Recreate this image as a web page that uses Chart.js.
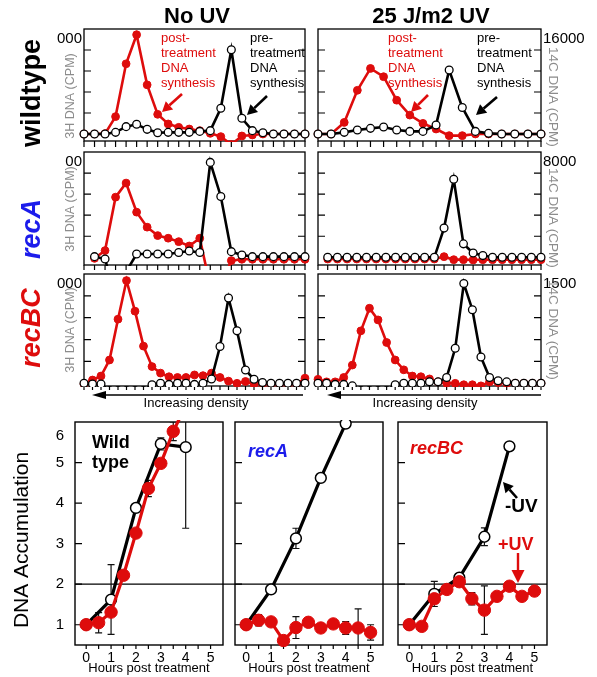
<!DOCTYPE html>
<html><head><meta charset="utf-8">
<script src="https://cdn.jsdelivr.net/npm/chart.js@4.4.1/dist/chart.umd.min.js"></script>
<style>
html,body{margin:0;padding:0;background:#fff;}
#wrap{position:relative;width:597px;height:677px;overflow:hidden;background:#fff;}
#wrap canvas{position:absolute;left:0;top:0;}
</style></head><body><div id="wrap"></div>
<script>
// ===== DATA: gradient fractions (CPM) =====
const wtNoUV_pre   = [0,0,0,250,1120,1480,710,200,250,250,250,400,510,3920,12840,2400,510,200,0,0,0,0];
const wtNoUV_post  = [0,0,50,2650,10700,15130,7490,3000,1530,1020,760,510,100,-400,-1600,-300,-150,0,0,0,0,0];
const wtUV_pre     = [0,0,250,600,860,1060,600,400,400,1360,9740,4040,400,100,0,0,0,0];
const wtUV_post    = [0,0,1770,6660,9990,8730,5150,2880,1620,760,-250,-250,0,0,0,0,0,0];
const recANoUV_pre = [null,50,-130,-3000,-1100,250,250,250,250,360,480,360,7210,4620,430,180,50,50,50,50,50,50];
const recANoUV_post= [null,-80,510,4570,5640,3430,2290,1650,1450,1190,860,1450,-2200,-2200,-250,-150,-150,-150,-150,-150,-150,-150];
const recAUV_pre   = [null,0,0,0,0,0,0,0,0,0,0,0,0,2220,5930,1020,330,130,0,0,0,0,0,0];
const recAUV_post  = [null,-130,-130,-130,-130,-130,-130,-130,-130,-130,-130,-130,-130,50,-180,-180,-200,-180,-180,-180,-180,-180,-180,-180];
const recBCNoUV_pre  = [0,-10,-10,-100,-100,-100,-100,-100,-20,0,-15,0,0,-15,0,60,505,1170,720,183,55,10,0,0,0,0,0];
const recBCNoUV_post = [-10,45,100,320,880,1410,990,510,230,140,90,80,80,115,105,140,80,30,0,25,-10,-10,-10,-10,-10,-10,70];
const recBCUV_pre    = [0,0,-15,-15,-35,-100,-100,-100,-100,-20,0,0,0,20,20,80,480,1370,1010,360,80,35,20,0,0,0,0];
const recBCUV_post   = [55,20,20,80,250,720,1030,870,560,320,185,100,90,60,20,0,0,-20,-20,-35,20,10,0,0,0,0,0];
const rowMax = [16000, 8000, 1500];
const leftTickLabels  = ['000','00','000'];
const rightTickLabels = ['16000','8000','1500'];

// ===== DATA: DNA accumulation =====
const hoursHalf = [0,0.5,1,1.5,2,2.5,3,3.5,4,4.5,5];
const hoursWhole = [0,1,2,3,4];
const wt_minusUV      = [1.0,1.62,3.88,5.46,5.38];
const wt_minusUV_err  = [0,0.86,0,0.15,2.0];
const wt_plusUV       = [1.0,1.05,1.31,2.22,3.26,4.36,4.98,5.77,6.4];
const wt_plusUV_err   = [0,0.25,0,0,0,0.2,0,0.23,0];
const recA_minusUV    = [1.0,1.87,3.13,4.62,5.96];
const recA_minusUV_err= [0,0,0.25,0,0.08];
const recA_plusUV     = [1.0,1.11,1.07,0.61,0.93,1.06,0.92,1.02,0.92,0.92,0.81];
const recA_plusUV_err = [0,0.14,0,0,0.27,0,0,0,0.16,0.47,0.19];
const recBC_minusUV   = [1.0,1.76,2.16,3.17,5.40];
const recBC_minusUV_err=[0,0.31,0.1,0.22,0];
const recBC_plusUV    = [1.0,0.96,1.64,1.87,2.06,1.64,1.36,1.70,1.95,1.70,1.83];
const recBC_plusUV_err= [0,0,0,0,0,0.15,0.6,0,0,0,0];
const yTickLabels = ['1','2','3','4','5','6'];
const xTickLabels = ['0','1','2','3','4','5'];

// ===== helpers =====
const FONT = "'Liberation Sans', Arial, Helvetica, sans-serif";
const RED = 'rgb(222,12,12)';
const BLUE = 'rgb(28,28,235)';
const GRAY = '#8c8c8c';
const W = 597, H = 677;
const wrap = document.getElementById('wrap');
function newCanvas(){ const c=document.createElement('canvas'); c.width=W; c.height=H; wrap.appendChild(c); return c; }
function txt(ctx,s,x,y,font,color,align,baseline,rot){
  ctx.save(); ctx.translate(x,y); if(rot) ctx.rotate(rot);
  ctx.font=font; ctx.fillStyle=color; ctx.textAlign=align||'left'; ctx.textBaseline=baseline||'middle';
  ctx.fillText(s,0,0); ctx.restore();
}
function arrow(ctx,x1,y1,x2,y2,color,lw,hl,hw){
  const a=Math.atan2(y2-y1,x2-x1), bx=x2-hl*Math.cos(a), by=y2-hl*Math.sin(a);
  ctx.save(); ctx.strokeStyle=color; ctx.fillStyle=color; ctx.lineWidth=lw;
  ctx.beginPath(); ctx.moveTo(x1,y1); ctx.lineTo(bx,by); ctx.stroke();
  ctx.beginPath(); ctx.moveTo(x2,y2);
  ctx.lineTo(bx+hw/2*Math.sin(a), by-hw/2*Math.cos(a));
  ctx.lineTo(bx-hw/2*Math.sin(a), by+hw/2*Math.cos(a)); ctx.closePath(); ctx.fill(); ctx.restore();
}
function line(ctx,x1,y1,x2,y2,lw,color){ ctx.save(); ctx.strokeStyle=color||'#000'; ctx.lineWidth=lw; ctx.beginPath(); ctx.moveTo(x1,y1); ctx.lineTo(x2,y2); ctx.stroke(); ctx.restore(); }
const baseOpts = (pad)=>({responsive:false, animation:false, devicePixelRatio:1, events:[],
  layout:{padding:pad}, plugins:{legend:{display:false}, tooltip:{enabled:false}, title:{display:false}}});

// ===== gradient panels =====
function topPanel(o){
  const n=o.pre.length, ymin=-o.max*(o.y1-o.base)/(o.base-o.y0);
  const mk=a=>a.map((v,i)=>({x:i,y:v}));
  const common={borderWidth:2.6, tension:0, clip:{left:8,right:8,top:4,bottom:1}, pointHoverRadius:0};
  const opts=baseOpts({left:o.x0, top:o.y0, right:W-o.x1, bottom:H-o.y1});
  opts.scales={x:{type:'linear',display:false,min:0,max:n-1}, y:{type:'linear',display:false,min:ymin,max:o.max}};
  new Chart(newCanvas(),{type:'line', data:{datasets:[
    {...common, data:mk(o.pre), borderColor:'#000', pointRadius:3.9, pointBorderWidth:1.3, pointBackgroundColor:'#fff', pointBorderColor:'#000'},
    {...common, data:mk(o.post), borderColor:RED, pointRadius:3.9, pointBorderWidth:1, pointBackgroundColor:RED, pointBorderColor:RED}
  ]}, options:opts, plugins:[{id:'frm',
    beforeDatasetsDraw(ch){
      const c=ch.ctx, a=ch.chartArea, xs=ch.scales.x, ys=ch.scales.y;
      c.save(); c.strokeStyle='#000'; c.lineWidth=1.3; c.strokeRect(a.left,a.top,a.right-a.left,a.bottom-a.top);
      c.lineWidth=1.2; c.beginPath();
      for(let i=0;i<n;i++){ const px=xs.getPixelForValue(i); c.moveTo(px,a.bottom); c.lineTo(px,a.bottom+o.tick); }
      for(let k=1;k<5;k++){ const py=ys.getPixelForValue(o.max*k/5); c.moveTo(a.left,py); c.lineTo(a.left+7,py); c.moveTo(a.right,py); c.lineTo(a.right-7,py); }
      c.stroke(); c.restore();
    },
    afterDraw(ch){ o.decorate(ch.ctx, ch.chartArea); }
  }]});
}
const L={x0:84,x1:305}, R={x0:318,x1:541};
const ROWS=[{y0:29,y1:141,base:134,tick:6},{y0:152,y1:265,base:257.3,tick:5},{y0:274,y1:386,base:383.3,tick:4}];
const rowName=[['wildtype','#000',"bold 27px "+FONT,93],['recA',BLUE,"italic bold 27px "+FONT,229],['recBC',RED,"italic bold 27px "+FONT,328]];
const leftLabelY=[96,209,330], rightLabelY=[47,168,280];
const topData=[[wtNoUV_pre,wtNoUV_post,wtUV_pre,wtUV_post],[recANoUV_pre,recANoUV_post,recAUV_pre,recAUV_post],[recBCNoUV_pre,recBCNoUV_post,recBCUV_pre,recBCUV_post]];

function noteBlock(ctx,x,color){ ['post-','treatment','DNA','synthesis'].forEach((s,i)=>txt(ctx,s,x,38+15*i,"13px "+FONT,color)); }
function noteBlockPre(ctx,x){ ['pre-','treatment','DNA','synthesis'].forEach((s,i)=>txt(ctx,s,x,38+15*i,"13px "+FONT,'#000')); }

ROWS.forEach((r,ri)=>{
  const d=topData[ri];
  topPanel({...L,...r,max:rowMax[ri],pre:d[0],post:d[1],decorate:(ctx,a)=>{
    txt(ctx,leftTickLabels[ri],82,a.top+2,"15px "+FONT,'#000','right','top');
    txt(ctx,'3H DNA (CPM)',71,leftLabelY[ri],"12.5px "+FONT,GRAY,'center','middle',-Math.PI/2);
    const rn=rowName[ri]; txt(ctx,rn[0],33,rn[3],rn[2],rn[1],'center','middle',-Math.PI/2);
    if(ri===0){
      txt(ctx,'No UV',197,17,"bold 22px "+FONT,'#000','center','middle');
      noteBlock(ctx,161,RED); noteBlockPre(ctx,250);
      arrow(ctx,182,94,162,112,RED,2.6,10,11);
      arrow(ctx,267,96,247,115,'#000',2.6,10,11);
    }
    if(ri===2){
      arrow(ctx,303,395,92,395,'#000',1.3,14,8);
      txt(ctx,'Increasing density',196,403,"13px "+FONT,'#000','center','middle');
    }
  }});
  topPanel({...R,...r,max:rowMax[ri],pre:d[2],post:d[3],decorate:(ctx,a)=>{
    txt(ctx,rightTickLabels[ri],543,a.top+2,"15px "+FONT,'#000','left','top');
    txt(ctx,'14C DNA (CPM)',553,rightLabelY[ri],"13.5px "+FONT,GRAY,'left','middle',Math.PI/2);
    if(ri===0){
      txt(ctx,'25 J/m2 UV',431,17,"bold 22px "+FONT,'#000','center','middle');
      noteBlock(ctx,388,RED); noteBlockPre(ctx,477);
      arrow(ctx,428,95,411,112,RED,2.6,10,11);
      arrow(ctx,497,97,476,115,'#000',2.6,10,11);
    }
    if(ri===2){
      arrow(ctx,541,395,327,395,'#000',1.3,14,8);
      txt(ctx,'Increasing density',425,403,"13px "+FONT,'#000','center','middle');
    }
  }});
});

// ===== accumulation panels =====
function botPanel(o){
  const opts=baseOpts({left:o.x0, top:422, right:W-o.x1, bottom:H-645});
  opts.scales={x:{type:'linear',display:false,min:-0.45,max:5.5}, y:{type:'linear',display:false,min:0.5,max:6}};
  const mk=(xs,ys)=>ys.map((v,i)=>({x:xs[i],y:v}));
  const common={borderWidth:3.2, tension:0, clip:{left:8,right:8,top:2,bottom:2}, pointHoverRadius:0};
  new Chart(newCanvas(),{type:'line', data:{datasets:[
    {...common, data:mk(hoursHalf,o.red), errors:o.redErr, borderColor:RED, pointRadius:6.2, pointBorderWidth:1, pointBackgroundColor:RED, pointBorderColor:RED},
    {...common, data:mk(hoursWhole,o.black), errors:o.blackErr, borderColor:'#000', pointRadius:5.4, pointBorderWidth:1.5, pointBackgroundColor:'#fff', pointBorderColor:'#000'}
  ]}, options:opts, plugins:[{id:'frm2',
    beforeDatasetsDraw(ch){
      const c=ch.ctx, a=ch.chartArea, xs=ch.scales.x, ys=ch.scales.y;
      c.save(); c.strokeStyle='#000'; c.lineWidth=1.4; c.strokeRect(a.left,a.top,a.right-a.left,a.bottom-a.top);
      c.lineWidth=1.2; c.beginPath();
      for(let h=0;h<=5;h+=0.5){ const px=xs.getPixelForValue(h); c.moveTo(px,a.bottom); c.lineTo(px,a.bottom+4); }
      for(let v=1;v<=5;v++){ const py=ys.getPixelForValue(v); c.moveTo(a.left,py); c.lineTo(a.left+7,py); }
      c.stroke();
      const p2=ys.getPixelForValue(2); line(c,a.left,p2,a.right+o.ext,p2,1.2,'#000');
      // error bars
      c.beginPath(); c.rect(a.left,a.top,a.right-a.left,a.bottom-a.top); c.clip();
      c.strokeStyle='#111'; c.lineWidth=1.2;
      ch.data.datasets.forEach(ds=>{
        ds.data.forEach((p,i)=>{ const e=ds.errors[i]; if(!e) return;
          const px=xs.getPixelForValue(p.x), pt=ys.getPixelForValue(p.y+e), pb=ys.getPixelForValue(p.y-e);
          c.beginPath(); c.moveTo(px,pt); c.lineTo(px,pb); c.moveTo(px-3.5,pt); c.lineTo(px+3.5,pt); c.moveTo(px-3.5,pb); c.lineTo(px+3.5,pb); c.stroke();
        });
      });
      c.restore();
    },
    afterDraw(ch){
      const c=ch.ctx, a=ch.chartArea, xs=ch.scales.x, ys=ch.scales.y;
      xTickLabels.forEach(s=>txt(c,s,xs.getPixelForValue(+s),658,"14px "+FONT,'#000','center','middle'));
      txt(c,'Hours post treatment',(a.left+a.right)/2,668,"13px "+FONT,'#000','center','middle');
      if(o.yLabels){
        yTickLabels.forEach(s=>txt(c,s,64,Math.max(ys.getPixelForValue(+s),a.top+14),"15px "+FONT,'#000','right','middle'));
        txt(c,'DNA Accumulation',22,540,"21px "+FONT,'#000','center','middle',-Math.PI/2);
      }
      o.decorate(c,a);
    }
  }]});
}
botPanel({x0:75,x1:223,ext:12,red:wt_plusUV,redErr:wt_plusUV_err,black:wt_minusUV,blackErr:wt_minusUV_err,yLabels:true,decorate:(c)=>{
  txt(c,'Wild',92,443,"bold 18px "+FONT,'#000','left','middle');
  txt(c,'type',92,463,"bold 18px "+FONT,'#000','left','middle');
}});
botPanel({x0:235,x1:383,ext:15,red:recA_plusUV,redErr:recA_plusUV_err,black:recA_minusUV,blackErr:recA_minusUV_err,decorate:(c)=>{
  txt(c,'recA',248,452,"italic bold 18px "+FONT,BLUE,'left','middle');
}});
botPanel({x0:398,x1:547,ext:0,red:recBC_plusUV,redErr:recBC_plusUV_err,black:recBC_minusUV,blackErr:recBC_minusUV_err,decorate:(c)=>{
  txt(c,'recBC',410,449,"italic bold 18px "+FONT,RED,'left','middle');
  txt(c,'-UV',505,507,"bold 19px "+FONT,'#000','left','middle');
  arrow(c,517,498,503,482,'#000',2.6,10,11);
  txt(c,'+UV',498,545,"bold 18px "+FONT,RED,'left','middle');
  arrow(c,518,553,518,583,RED,2.4,13,13);
}});
</script></body></html>
